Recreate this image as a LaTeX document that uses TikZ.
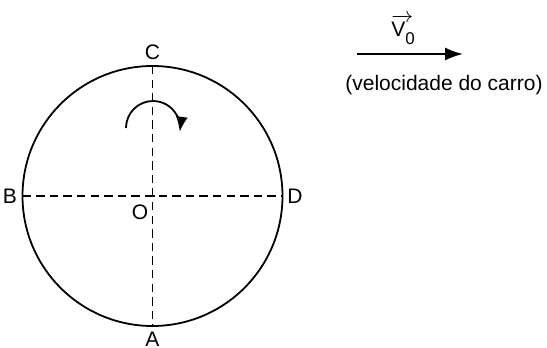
\documentclass[tikz,border=0pt]{standalone}
\usepackage{fontspec}
\usepackage{amsmath}
\setmainfont{Liberation Sans}
\usetikzlibrary{arrows.meta,calc}
\begin{document}
\begin{tikzpicture}[x=0.5pt,y=0.5pt,
  lbl/.style={inner sep=0pt,font=\fontsize{10.5}{12}\selectfont},
  axis/.style={line width=0.75pt,dash pattern=on 4.2pt off 2.6pt},
  rim/.style={line width=0.9pt}]
\useasboundingbox (0,0) rectangle (547,348);
\coordinate (O) at (152.5,152);
\coordinate (Cp) at (152.5,282);
\coordinate (Ap) at (152.5,22);
\coordinate (Bp) at (22.5,152);
\coordinate (Dp) at (282.5,152);
\draw[rim] (O) circle[radius=130];
\draw[axis] (Cp) -- (Ap);
\draw[axis] (Bp) -- (Dp);
\draw[line width=0.75pt] ($(O)+(-2,0)$) -- ($(O)+(2,0)$);
\node[lbl] (C) at (152.5,296) {C};
\node[lbl] (A) at (152.5,9) {A};
\node[lbl] (B) at (10,152) {B};
\node[lbl] (D) at (295,152) {D};
\node[lbl] (Olab) at (140,136) {O};
\coordinate (arcs) at (126,220);
\draw[line width=0.9pt,-{Latex[length=7.5pt,width=6pt]}] (arcs) arc[start angle=180,end angle=-8,radius=27];
\coordinate (v1) at (357,294);
\coordinate (v2) at (463,294);
\draw[line width=0.9pt,-{Latex[length=9pt,width=6.5pt]}] (v1) -- (v2);
\node[lbl,anchor=base west] (V) at (391,311) {\rlap{$\overrightarrow{\text{\phantom{V}\kern2.5pt}}$}V\raisebox{-4pt}{\fontsize{8.5}{9}\selectfont 0}};
\node[lbl] (vel) at (444,263) {(velocidade do carro)};
\end{tikzpicture}
\end{document}
